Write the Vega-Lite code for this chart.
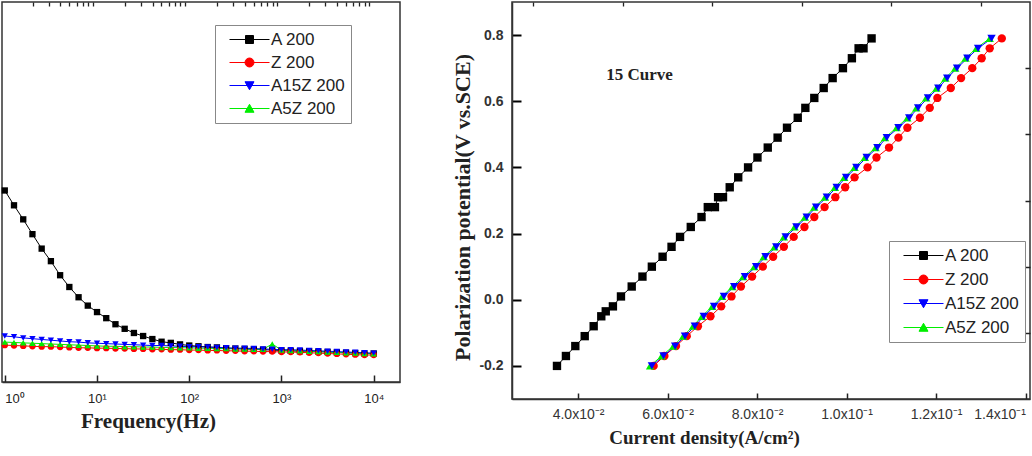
{
  "$schema": "https://vega.github.io/schema/vega-lite/v6.json",
  "padding": 0,
  "background": "white",
  "spacing": 50,
  "config": {
    "view": {"stroke": "#333", "strokeWidth": 1.5},
    "font": "Liberation Sans",
    "axis": {"grid": false, "ticks": true, "domainColor": "#333", "domainWidth": 1.5, "tickColor": "#222", "tickWidth": 1.3, "labelColor": "#222", "titleColor": "#222"},
    "legend": {"orient": "none", "padding": 6, "strokeColor": "#888", "fillColor": "white", "labelFont": "Liberation Sans", "labelFontSize": 17, "labelColor": "#222", "symbolSize": 100, "symbolStrokeWidth": 1, "labelOffset": 33, "labelLimit": 300, "cornerRadius": 0}
  },
  "datasets": {
    "imp": [
      {"f": 1, "A 200": 50.4, "Z 200": 9.7, "A15Z 200": 12.1, "A5Z 200": 10.5},
      {"f": 1.259, "A 200": 46.5, "Z 200": 9.6, "A15Z 200": 11.9, "A5Z 200": 10.4},
      {"f": 1.585, "A 200": 42.8, "Z 200": 9.5, "A15Z 200": 11.6, "A5Z 200": 10.3},
      {"f": 1.995, "A 200": 38.9, "Z 200": 9.4, "A15Z 200": 11.4, "A5Z 200": 10.2},
      {"f": 2.512, "A 200": 35.1, "Z 200": 9.3, "A15Z 200": 11.2, "A5Z 200": 10.1},
      {"f": 3.162, "A 200": 31.8, "Z 200": 9.3, "A15Z 200": 11.0, "A5Z 200": 10.0},
      {"f": 3.981, "A 200": 28.1, "Z 200": 9.2, "A15Z 200": 10.8, "A5Z 200": 9.9},
      {"f": 5.012, "A 200": 25.0, "Z 200": 9.1, "A15Z 200": 10.6, "A5Z 200": 9.8},
      {"f": 6.31, "A 200": 22.3, "Z 200": 9.0, "A15Z 200": 10.5, "A5Z 200": 9.7},
      {"f": 7.943, "A 200": 20.1, "Z 200": 9.0, "A15Z 200": 10.3, "A5Z 200": 9.6},
      {"f": 10, "A 200": 18.4, "Z 200": 8.9, "A15Z 200": 10.2, "A5Z 200": 9.5},
      {"f": 12.59, "A 200": 16.8, "Z 200": 8.9, "A15Z 200": 10.1, "A5Z 200": 9.4},
      {"f": 15.85, "A 200": 15.2, "Z 200": 8.8, "A15Z 200": 10.0, "A5Z 200": 9.4},
      {"f": 19.95, "A 200": 14.0, "Z 200": 8.8, "A15Z 200": 9.9, "A5Z 200": 9.3},
      {"f": 25.12, "A 200": 12.9, "Z 200": 8.7, "A15Z 200": 9.8, "A5Z 200": 9.3},
      {"f": 31.62, "A 200": 12.1, "Z 200": 8.7, "A15Z 200": 9.7, "A5Z 200": 9.2},
      {"f": 39.81, "A 200": 11.3, "Z 200": 8.6, "A15Z 200": 9.6, "A5Z 200": 9.2},
      {"f": 50.12, "A 200": 10.6, "Z 200": 8.6, "A15Z 200": 9.6, "A5Z 200": 9.1},
      {"f": 63.1, "A 200": 10.3, "Z 200": 8.5, "A15Z 200": 9.5, "A5Z 200": 9.1},
      {"f": 79.43, "A 200": 9.9, "Z 200": 8.5, "A15Z 200": 9.4, "A5Z 200": 9.0},
      {"f": 100, "A 200": 9.6, "Z 200": 8.4, "A15Z 200": 9.3, "A5Z 200": 9.0},
      {"f": 125.9, "A 200": 9.4, "Z 200": 8.4, "A15Z 200": 9.3, "A5Z 200": 8.9},
      {"f": 158.5, "A 200": 9.2, "Z 200": 8.3, "A15Z 200": 9.2, "A5Z 200": 8.9},
      {"f": 199.5, "A 200": 9.1, "Z 200": 8.3, "A15Z 200": 9.1, "A5Z 200": 8.8},
      {"f": 251.2, "A 200": 8.9, "Z 200": 8.2, "A15Z 200": 9.0, "A5Z 200": 8.8},
      {"f": 316.2, "A 200": 8.8, "Z 200": 8.2, "A15Z 200": 8.9, "A5Z 200": 8.7},
      {"f": 398.1, "A 200": 8.7, "Z 200": 8.1, "A15Z 200": 8.9, "A5Z 200": 8.7},
      {"f": 501.2, "A 200": 8.6, "Z 200": 8.1, "A15Z 200": 8.8, "A5Z 200": 8.6},
      {"f": 631, "A 200": 8.5, "Z 200": 8.0, "A15Z 200": 8.7, "A5Z 200": 8.6},
      {"f": 794.3, "A 200": 8.4, "Z 200": 8.0, "A15Z 200": 8.6, "A5Z 200": 10.0},
      {"f": 1000, "A 200": 8.3, "Z 200": 7.9, "A15Z 200": 8.5, "A5Z 200": 8.4},
      {"f": 1259, "A 200": 8.2, "Z 200": 7.9, "A15Z 200": 8.5, "A5Z 200": 8.3},
      {"f": 1585, "A 200": 8.1, "Z 200": 7.8, "A15Z 200": 8.4, "A5Z 200": 8.2},
      {"f": 1995, "A 200": 8.1, "Z 200": 7.7, "A15Z 200": 8.3, "A5Z 200": 8.1},
      {"f": 2512, "A 200": 8.0, "Z 200": 7.6, "A15Z 200": 8.2, "A5Z 200": 8.0},
      {"f": 3162, "A 200": 7.9, "Z 200": 7.5, "A15Z 200": 8.1, "A5Z 200": 7.9},
      {"f": 3981, "A 200": 7.8, "Z 200": 7.4, "A15Z 200": 8.0, "A5Z 200": 7.8},
      {"f": 5012, "A 200": 7.7, "Z 200": 7.3, "A15Z 200": 7.9, "A5Z 200": 7.7},
      {"f": 6310, "A 200": 7.6, "Z 200": 7.2, "A15Z 200": 7.8, "A5Z 200": 7.6},
      {"f": 7943, "A 200": 7.5, "Z 200": 7.1, "A15Z 200": 7.7, "A5Z 200": 7.5},
      {"f": 10000, "A 200": 7.5, "Z 200": 7.1, "A15Z 200": 7.6, "A5Z 200": 7.4}
    ],
    "pol": [
      {"E": -0.20, "A 200": 0.0353, "Z 200": 0.0569, "A15Z 200": 0.0565, "A5Z 200": 0.0561},
      {"E": -0.17, "A 200": 0.0373, "Z 200": 0.0593, "A15Z 200": 0.0591, "A5Z 200": 0.0587},
      {"E": -0.14, "A 200": 0.0394, "Z 200": 0.0619, "A15Z 200": 0.0617, "A5Z 200": 0.0613},
      {"E": -0.11, "A 200": 0.0415, "Z 200": 0.0643, "A15Z 200": 0.0639, "A5Z 200": 0.0635},
      {"E": -0.08, "A 200": 0.0435, "Z 200": 0.0668, "A15Z 200": 0.0661, "A5Z 200": 0.0657},
      {"E": -0.05, "A 200": 0.0452, "Z 200": 0.0696, "A15Z 200": 0.0681, "A5Z 200": 0.0677},
      {"E": -0.02, "A 200": 0.0478, "Z 200": 0.0720, "A15Z 200": 0.0704, "A5Z 200": 0.0700},
      {"E": 0.01, "A 200": 0.0496, "Z 200": 0.0743, "A15Z 200": 0.0726, "A5Z 200": 0.0722},
      {"E": 0.04, "A 200": 0.0520, "Z 200": 0.0764, "A15Z 200": 0.0749, "A5Z 200": 0.0745},
      {"E": 0.07, "A 200": 0.0544, "Z 200": 0.0789, "A15Z 200": 0.0773, "A5Z 200": 0.0769},
      {"E": 0.10, "A 200": 0.0565, "Z 200": 0.0813, "A15Z 200": 0.0798, "A5Z 200": 0.0794},
      {"E": 0.13, "A 200": 0.0589, "Z 200": 0.0836, "A15Z 200": 0.0819, "A5Z 200": 0.0815},
      {"E": 0.16, "A 200": 0.0609, "Z 200": 0.0860, "A15Z 200": 0.0843, "A5Z 200": 0.0839},
      {"E": 0.19, "A 200": 0.0628, "Z 200": 0.0882, "A15Z 200": 0.0864, "A5Z 200": 0.0860},
      {"E": 0.22, "A 200": 0.0652, "Z 200": 0.0906, "A15Z 200": 0.0888, "A5Z 200": 0.0884},
      {"E": 0.25, "A 200": 0.0676, "Z 200": 0.0928, "A15Z 200": 0.0911, "A5Z 200": 0.0907},
      {"E": 0.28, "A 200": 0.0690, "Z 200": 0.0951, "A15Z 200": 0.0932, "A5Z 200": 0.0928},
      {"E": 0.31, "A 200": 0.0713, "Z 200": 0.0975, "A15Z 200": 0.0956, "A5Z 200": 0.0952},
      {"E": 0.34, "A 200": 0.0739, "Z 200": 0.0997, "A15Z 200": 0.0978, "A5Z 200": 0.0974},
      {"E": 0.37, "A 200": 0.0758, "Z 200": 0.1018, "A15Z 200": 0.0999, "A5Z 200": 0.0995},
      {"E": 0.40, "A 200": 0.0780, "Z 200": 0.1047, "A15Z 200": 0.1022, "A5Z 200": 0.1018},
      {"E": 0.43, "A 200": 0.0801, "Z 200": 0.1067, "A15Z 200": 0.1045, "A5Z 200": 0.1041},
      {"E": 0.46, "A 200": 0.0824, "Z 200": 0.1095, "A15Z 200": 0.1069, "A5Z 200": 0.1065},
      {"E": 0.49, "A 200": 0.0846, "Z 200": 0.1116, "A15Z 200": 0.1090, "A5Z 200": 0.1086},
      {"E": 0.52, "A 200": 0.0867, "Z 200": 0.1136, "A15Z 200": 0.1116, "A5Z 200": 0.1112},
      {"E": 0.55, "A 200": 0.0891, "Z 200": 0.1164, "A15Z 200": 0.1140, "A5Z 200": 0.1136},
      {"E": 0.58, "A 200": 0.0908, "Z 200": 0.1186, "A15Z 200": 0.1160, "A5Z 200": 0.1156},
      {"E": 0.61, "A 200": 0.0928, "Z 200": 0.1203, "A15Z 200": 0.1182, "A5Z 200": 0.1178},
      {"E": 0.64, "A 200": 0.0949, "Z 200": 0.1233, "A15Z 200": 0.1205, "A5Z 200": 0.1201},
      {"E": 0.67, "A 200": 0.0969, "Z 200": 0.1256, "A15Z 200": 0.1225, "A5Z 200": 0.1221},
      {"E": 0.70, "A 200": 0.0992, "Z 200": 0.1281, "A15Z 200": 0.1247, "A5Z 200": 0.1243},
      {"E": 0.73, "A 200": 0.1012, "Z 200": 0.1302, "A15Z 200": 0.1270, "A5Z 200": 0.1266},
      {"E": 0.76, "A 200": 0.1027, "Z 200": 0.1320, "A15Z 200": 0.1294, "A5Z 200": 0.1290},
      {"E": 0.79, "A 200": 0.1056, "Z 200": 0.1347, "A15Z 200": 0.1324, "A5Z 200": 0.1320},
      {"E": -0.035, "A 200": 0.0462},
      {"E": 0.28, "A 200": 0.0706},
      {"E": 0.31, "A 200": 0.0724},
      {"E": 0.76, "A 200": 0.1038}
    ]
  },
  "hconcat": [
    {
      "width": 398,
      "height": 380,
      "data": {"name": "imp"},
      "transform": [
        {"fold": ["A 200", "Z 200", "A5Z 200", "A15Z 200"], "as": ["series", "v"]}
      ],
      "layer": [
        {
          "mark": {"type": "line", "strokeWidth": 1},
          "encoding": {
            "x": {
              "field": "f", "type": "quantitative",
              "scale": {"type": "log", "domain": [0.933, 19275], "nice": false},
              "axis": {
                "values": [1, 10, 100, 1000, 10000],
                "labelExpr": "datum.value==1?'10⁰':datum.value==10?'10¹':datum.value==100?'10²':datum.value==1000?'10³':'10⁴'",
                "tickSize": -7,
                "tickWidth": 1.5,
                "labelPadding": 17,
                "labelFlush": 5,
                "labelFontSize": 13,
                "labelFont": "Liberation Sans",
                "title": "Frequency(Hz)",
                "titleFont": "Liberation Serif",
                "titleFontSize": 21,
                "titleFontWeight": "bold",
                "titleX": 146,
                "titlePadding": 5
              }
            },
            "y": {"field": "v", "type": "quantitative", "scale": {"domain": [0, 100], "nice": false}, "axis": null},
            "color": {
              "field": "series", "type": "nominal",
              "scale": {"domain": ["A 200", "Z 200", "A15Z 200", "A5Z 200"], "range": ["#000000", "#ff0000", "#0000ff", "#00ee00"]},
              "legend": {"title": null, "legendX": 213, "legendY": 23, "rowPadding": 5,
                "encode": {"symbols": {"update": {
                  "shape": {"signal": "datum.value=='A 200'?'M0,0H8M3.2,-0.8H4.8V0.8H3.2Z':datum.value=='Z 200'?'M0,0H8M3.1,0A0.9,0.9,0,1,1,4.9,0A0.9,0.9,0,1,1,3.1,0':datum.value=='A15Z 200'?'M0,0H8M3.1,-0.75H4.9L4,0.85Z':'M0,0H8M3.1,0.75H4.9L4,-0.85Z'"},
                  "fill": {"signal": "datum.value=='A 200'?'#000000':datum.value=='Z 200'?'#ff0000':datum.value=='A15Z 200'?'#0000ff':'#00ee00'"},
                  "stroke": {"signal": "datum.value=='A 200'?'#000000':datum.value=='Z 200'?'#ff0000':datum.value=='A15Z 200'?'#0000ff':'#00ee00'"},
                  "strokeWidth": {"value": 1},
                  "opacity": {"value": 1}
                }}}
              }
            }
          }
        },
        {
          "mark": {"type": "point", "filled": true, "opacity": 1, "size": 40},
          "encoding": {
            "x": {
              "field": "f", "type": "quantitative",
              "scale": {"type": "log", "domain": [0.933, 19275], "nice": false},
              "axis": {
                "values": [2,3,4,5,6,7,8,9,20,30,40,50,60,70,80,90,200,300,400,500,600,700,800,900,2000,3000,4000,5000,6000,7000,8000,9000],
                "tickSize": -4,
                "tickWidth": 1.3,
                "labels": false,
                "domain": false,
                "title": null
              }
            },
            "y": {"field": "v", "type": "quantitative", "scale": {"domain": [0, 100], "nice": false}, "axis": null},
            "color": {
              "field": "series", "type": "nominal",
              "scale": {"domain": ["A 200", "Z 200", "A15Z 200", "A5Z 200"], "range": ["#000000", "#ff0000", "#0000ff", "#00ee00"]},
              "legend": {"title": null, "legendX": 213, "legendY": 23, "rowPadding": 5,
                "encode": {"symbols": {"update": {
                  "shape": {"signal": "datum.value=='A 200'?'M0,0H8M3.2,-0.8H4.8V0.8H3.2Z':datum.value=='Z 200'?'M0,0H8M3.1,0A0.9,0.9,0,1,1,4.9,0A0.9,0.9,0,1,1,3.1,0':datum.value=='A15Z 200'?'M0,0H8M3.1,-0.75H4.9L4,0.85Z':'M0,0H8M3.1,0.75H4.9L4,-0.85Z'"},
                  "fill": {"signal": "datum.value=='A 200'?'#000000':datum.value=='Z 200'?'#ff0000':datum.value=='A15Z 200'?'#0000ff':'#00ee00'"},
                  "stroke": {"signal": "datum.value=='A 200'?'#000000':datum.value=='Z 200'?'#ff0000':datum.value=='A15Z 200'?'#0000ff':'#00ee00'"},
                  "strokeWidth": {"value": 1},
                  "opacity": {"value": 1}
                }}}
              }
            },
            "shape": {
              "field": "series", "type": "nominal",
              "scale": {"domain": ["A15Z 200", "A5Z 200", "A 200", "Z 200"], "range": ["triangle-down", "triangle-up", "square", "circle"]},
              "legend": null
            }
          }
        }
      ],
      "resolve": {"axis": {"x": "independent"}}
    },
    {
      "width": 518,
      "height": 397,
      "layer": [
        {
          "data": {"name": "pol"},
          "transform": [
            {"fold": ["A 200", "Z 200", "A5Z 200", "A15Z 200"], "as": ["series", "J"]},
            {"filter": "isValid(datum.J)"}
          ],
          "mark": {"type": "line", "strokeWidth": 1},
          "encoding": {
            "x": {
              "field": "J", "type": "quantitative",
              "scale": {"domain": [0.02525, 0.141], "nice": false, "zero": false},
              "axis": {
                "values": [0.04, 0.06, 0.08, 0.10, 0.12, 0.14],
                "labelExpr": "datum.value<0.095?format(datum.value*100,'.1f')+'x10⁻²':format(datum.value*10,'.1f')+'x10⁻¹'",
                "tickSize": -6,
                "tickWidth": 1.5,
                "labelPadding": 14,
                "labelFlush": 6,
                "labelFontSize": 14,
                "labelFont": "Liberation Sans",
                "labelColor": "#333",
                "title": "Current density(A/cm²)",
                "titleFont": "Liberation Serif",
                "titleFontSize": 19,
                "titleFontWeight": "bold",
                "titleX": 192,
                "titlePadding": 7
              }
            },
            "y": {
              "field": "E", "type": "quantitative",
              "scale": {"domain": [-0.3, 0.9], "nice": false, "zero": false},
              "axis": {
                "values": [-0.2, 0, 0.2, 0.4, 0.6, 0.8],
                "labelExpr": "datum.value<-0.01?'-'+format(-datum.value,'.1f'):format(abs(datum.value),'.1f')",
                "tickSize": -9,
                "tickWidth": 2,
                "tickColor": "#000000",
                "labelPadding": 18,
                "labelFontSize": 14,
                "labelFontWeight": "bold",
                "labelFont": "Liberation Sans",
                "labelColor": "#333",
                "title": "Polarization potential(V vs.SCE)",
                "titleFont": "Liberation Serif",
                "titleFontSize": 22,
                "titleFontWeight": "bold",
                "titleY": 205,
                "titlePadding": 4
              }
            },
            "color": {
              "field": "series", "type": "nominal",
              "scale": {"domain": ["A 200", "Z 200", "A15Z 200", "A5Z 200"], "range": ["#000000", "#ff0000", "#0000ff", "#00ee00"]},
              "legend": {"title": null, "legendX": 377, "legendY": 239, "rowPadding": 6,
                "encode": {"symbols": {"update": {
                  "shape": {"signal": "datum.value=='A 200'?'M0,0H8M3.2,-0.8H4.8V0.8H3.2Z':datum.value=='Z 200'?'M0,0H8M3.1,0A0.9,0.9,0,1,1,4.9,0A0.9,0.9,0,1,1,3.1,0':datum.value=='A15Z 200'?'M0,0H8M3.1,-0.75H4.9L4,0.85Z':'M0,0H8M3.1,0.75H4.9L4,-0.85Z'"},
                  "fill": {"signal": "datum.value=='A 200'?'#000000':datum.value=='Z 200'?'#ff0000':datum.value=='A15Z 200'?'#0000ff':'#00ee00'"},
                  "stroke": {"signal": "datum.value=='A 200'?'#000000':datum.value=='Z 200'?'#ff0000':datum.value=='A15Z 200'?'#0000ff':'#00ee00'"},
                  "strokeWidth": {"value": 1},
                  "opacity": {"value": 1}
                }}}
              }
            }
          }
        },
        {
          "data": {"name": "pol"},
          "transform": [
            {"fold": ["A 200", "Z 200", "A5Z 200", "A15Z 200"], "as": ["series", "J"]},
            {"filter": "isValid(datum.J)"}
          ],
          "mark": {"type": "point", "filled": true, "opacity": 1, "size": 70},
          "encoding": {
            "x": {
              "field": "J", "type": "quantitative",
              "scale": {"domain": [0.02525, 0.141], "nice": false, "zero": false},
              "axis": {"values": [0.03, 0.05, 0.07, 0.09, 0.11, 0.13], "tickSize": -4, "tickWidth": 1.3, "labels": false, "domain": false, "title": null}
            },
            "y": {
              "field": "E", "type": "quantitative",
              "scale": {"domain": [-0.3, 0.9], "nice": false, "zero": false},
              "axis": {"values": [-0.1, 0.1, 0.3, 0.5, 0.7], "tickSize": -5, "tickWidth": 1.5, "labels": false, "domain": false, "title": null}
            },
            "color": {
              "field": "series", "type": "nominal",
              "scale": {"domain": ["A 200", "Z 200", "A15Z 200", "A5Z 200"], "range": ["#000000", "#ff0000", "#0000ff", "#00ee00"]},
              "legend": {"title": null, "legendX": 377, "legendY": 239, "rowPadding": 6,
                "encode": {"symbols": {"update": {
                  "shape": {"signal": "datum.value=='A 200'?'M0,0H8M3.2,-0.8H4.8V0.8H3.2Z':datum.value=='Z 200'?'M0,0H8M3.1,0A0.9,0.9,0,1,1,4.9,0A0.9,0.9,0,1,1,3.1,0':datum.value=='A15Z 200'?'M0,0H8M3.1,-0.75H4.9L4,0.85Z':'M0,0H8M3.1,0.75H4.9L4,-0.85Z'"},
                  "fill": {"signal": "datum.value=='A 200'?'#000000':datum.value=='Z 200'?'#ff0000':datum.value=='A15Z 200'?'#0000ff':'#00ee00'"},
                  "stroke": {"signal": "datum.value=='A 200'?'#000000':datum.value=='Z 200'?'#ff0000':datum.value=='A15Z 200'?'#0000ff':'#00ee00'"},
                  "strokeWidth": {"value": 1},
                  "opacity": {"value": 1}
                }}}
              }
            },
            "shape": {
              "field": "series", "type": "nominal",
              "scale": {"domain": ["A15Z 200", "A5Z 200", "A 200", "Z 200"], "range": ["triangle-down", "triangle-up", "square", "circle"]},
              "legend": null
            }
          }
        },
        {
          "data": {"values": [{"J": 0.0463, "E": 0.68, "label": "15 Curve"}]},
          "mark": {"type": "text", "align": "left", "baseline": "middle", "font": "Liberation Serif", "fontWeight": "bold", "fontSize": 17, "color": "#222"},
          "encoding": {
            "x": {"field": "J", "type": "quantitative", "axis": null},
            "y": {"field": "E", "type": "quantitative", "axis": null},
            "text": {"field": "label"}
          }
        }
      ],
      "resolve": {"axis": {"x": "independent", "y": "independent"}}
    }
  ],
  "resolve": {"scale": {"color": "independent", "shape": "independent"}, "legend": {"color": "independent", "shape": "independent"}}
}
